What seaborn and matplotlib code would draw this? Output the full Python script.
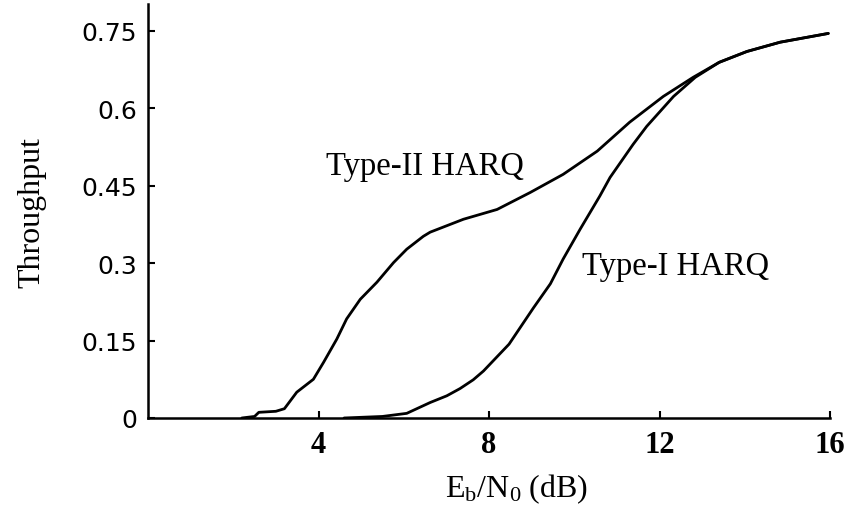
import numpy as np
import pandas as pd
import matplotlib
matplotlib.use("Agg")
import matplotlib.pyplot as plt
import seaborn as sns

# Data
type2_x = [2.2, 2.5, 2.6, 3.0, 3.2, 3.49, 3.88, 4.12, 4.43, 4.66, 4.98, 5.37, 5.76,
           6.07, 6.46, 6.62, 7.4, 8.19, 8.97, 9.74, 10.54, 11.3, 12.09, 12.79,
           13.4, 14.05, 14.83, 15.96]
type2_y = [0.0, 0.003, 0.011, 0.013, 0.018, 0.05, 0.075, 0.108, 0.153, 0.192, 0.23,
           0.263, 0.301, 0.327, 0.352, 0.36, 0.385, 0.404, 0.437, 0.472, 0.517,
           0.573, 0.623, 0.66, 0.689, 0.71, 0.728, 0.745]
type1_x = [4.6, 5.5, 6.07, 6.62, 7.01, 7.32, 7.63, 7.87, 8.47, 9.04, 9.44, 9.74,
           10.14, 10.6, 10.84, 11.38, 11.7, 12.33, 12.84, 13.4, 14.05, 14.83, 15.96]
type1_y = [0.0, 0.003, 0.009, 0.03, 0.043, 0.057, 0.074, 0.091, 0.143, 0.213, 0.26,
           0.308, 0.366, 0.43, 0.466, 0.53, 0.565, 0.623, 0.66, 0.689, 0.71, 0.728,
           0.745]
x_ticks = [4, 8, 12, 16]
y_ticks = [0, 0.15, 0.3, 0.45, 0.6, 0.75]
y_tick_labels = ["0", "0.15", "0.3", "0.45", "0.6", "0.75"]
series_labels = ["Type-II HARQ", "Type-I HARQ"]

sns.set_theme(style="ticks")
plt.rcParams["font.family"] = ["DejaVu Sans"]
plt.rcParams["text.color"] = "black"
plt.rcParams["axes.labelcolor"] = "black"
plt.rcParams["mathtext.fontset"] = "custom"
plt.rcParams["mathtext.rm"] = "Liberation Serif"
plt.rcParams["mathtext.it"] = "Liberation Serif:italic"

df = pd.concat([
    pd.DataFrame({"x": type2_x, "y": type2_y, "s": series_labels[0]}),
    pd.DataFrame({"x": type1_x, "y": type1_y, "s": series_labels[1]}),
])

fig = plt.figure(figsize=(8.46, 5.10), dpi=100)
ax = fig.add_axes([148 / 846, 91 / 510, 682 / 846, 414 / 510])
sns.lineplot(data=df, x="x", y="y", units="s", estimator=None, sort=False,
             color="black", linewidth=2.0, ax=ax, legend=False)
for ln in ax.lines:
    ln.set_solid_joinstyle("round")

ax.set_xlim(0, 16)
ax.set_ylim(0, 0.802)
ax.set_xticks(x_ticks)
ax.set_xticklabels([str(t) for t in x_ticks], fontsize=22, fontweight="bold",
                   family="Liberation Serif")
ax.set_yticks(y_ticks)
ax.set_yticklabels(y_tick_labels, fontsize=18)
ax.tick_params(axis="both", direction="in", length=5, width=1.5, colors="black",
               labelcolor="black")
ax.tick_params(axis="y", pad=8)
ax.tick_params(axis="x", pad=9)
sns.despine(ax=ax)
for sp in ["left", "bottom"]:
    ax.spines[sp].set_linewidth(1.8)
    ax.spines[sp].set_color("black")

ax.set_xlabel(r"$\mathrm{E_b/N_0}$ (dB)", fontsize=23, family="Liberation Serif")
ax.xaxis.set_label_coords(0.54, -0.128)
ax.set_ylabel("Throughput", fontsize=23, family="Liberation Serif")
ax.yaxis.set_label_coords(-0.149, 0.5)

ax.text(6.5, 0.488, series_labels[0], fontsize=23.5, family="Liberation Serif",
        ha="center", va="center")
ax.text(12.37, 0.294, series_labels[1], fontsize=23.5, family="Liberation Serif",
        ha="center", va="center")

fig.savefig("out.png", dpi=100, facecolor="white")
